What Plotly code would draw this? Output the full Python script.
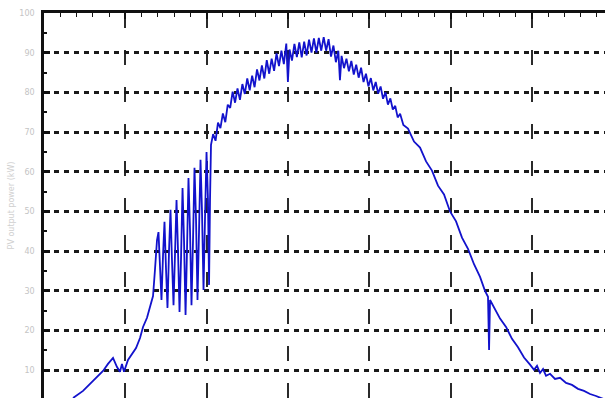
import plotly.graph_objects as go

# Sample positions (x, arbitrary time units; one grid cell = 10) and measured values
x_vals = [3.57, 4.80, 6.03, 7.26, 7.87, 8.49, 8.98, 9.35, 9.59, 9.84,
          10.33, 10.82, 11.32, 11.81, 12.18, 12.67, 13.04,
          13.41, 13.65, 13.90, 14.08, 14.27, 14.45, 14.64, 14.82, 15.01, 15.19,
          15.38, 15.56, 15.74, 15.93, 16.11, 16.30, 16.48, 16.67, 16.85, 17.04,
          17.22, 17.41, 17.59, 17.77, 17.96, 18.14, 18.33, 18.51, 18.70, 18.88,
          19.07, 19.25, 19.43, 19.62, 19.80, 19.99, 20.17, 20.30, 20.42, 20.54,
          20.8, 21.1, 21.4, 21.7, 22.0, 22.3, 22.6, 22.9, 23.2, 23.5,
          23.8, 24.1, 24.4, 24.7, 25.0, 25.3, 25.6, 25.9, 26.2, 26.5,
          26.8, 27.1, 27.4, 27.7, 28.0, 28.3, 28.6, 28.9, 29.2, 29.5,
          29.8, 30.0, 30.2, 30.5, 30.8, 31.1, 31.4, 31.7, 32.0, 32.3,
          32.6, 32.9, 33.2, 33.5, 33.8, 34.1, 34.4, 34.7, 35.0, 35.3,
          35.6, 35.9, 36.2, 36.4, 36.6, 36.9, 37.2, 37.5, 37.8, 38.1,
          38.4, 38.7, 39.0, 39.3, 39.6, 39.9, 40.2, 40.5, 40.8, 41.1,
          41.4, 41.7, 42.0, 42.3, 42.6, 42.9, 43.2, 43.5, 43.8, 44.2,
          44.77, 45.51, 46.25, 46.99, 47.72, 48.46, 49.20, 49.94, 50.68, 51.41,
          52.15, 52.89, 53.63, 54.24, 54.61, 54.74, 54.86, 55.47, 56.09, 56.83,
          57.56, 58.30, 59.04, 59.78, 60.27, 60.64, 61.01, 61.38, 61.75, 62.24,
          62.85, 63.47, 64.21, 64.94, 65.68, 66.42, 67.16, 67.90, 68.63, 69.37]
y_vals = [3.0, 4.8, 7.3, 9.8, 11.6, 13.1, 10.8, 9.6, 11.6, 9.6,
          12.6, 14.1, 15.6, 18.1, 20.9, 23.2, 26.2,
          28.7, 35.3, 42.8, 44.8, 34.0, 27.7, 39.0, 47.4, 35.3, 25.7,
          40.3, 50.4, 37.8, 26.4, 39.0, 52.9, 40.3, 24.7, 37.8, 55.9,
          42.8, 23.9, 40.3, 58.4, 45.3, 26.4, 42.8, 61.0, 47.9, 27.7,
          45.3, 63.0, 50.4, 30.2, 47.9, 65.0, 52.9, 31.5, 52.9, 66.8,
          69.5, 67.8, 72.4, 71.0, 74.7, 72.5, 76.9, 76.1, 80.2, 77.4,
          81.0, 78.1, 82.1, 79.6, 83.5, 80.5, 84.2, 81.3, 85.8, 83.0,
          86.8, 83.5, 88.1, 84.7, 88.5, 85.4, 89.8, 86.6, 90.5, 87.1,
          92.3, 82.6, 90.8, 88.0, 92.2, 88.9, 92.6, 88.8, 92.8, 89.3,
          93.3, 90.0, 93.6, 90.0, 93.7, 90.5, 93.9, 90.5, 93.4, 89.0,
          91.8, 87.6, 90.5, 83.1, 89.2, 86.1, 88.5, 85.3, 87.9, 84.5,
          87.0, 83.7, 86.2, 82.6, 84.7, 81.5, 83.6, 80.5, 82.6, 79.7,
          81.5, 78.4, 80.0, 76.9, 78.5, 75.7, 76.6, 73.7, 74.6, 71.8,
          70.9, 67.6, 66.1, 62.6, 60.3, 56.5, 54.3, 50.0, 47.5, 43.4,
          40.6, 36.7, 33.5, 30.0, 28.5, 15.1, 27.7, 25.4, 23.0, 20.9,
          17.9, 15.8, 13.2, 11.4, 10.1, 11.1, 9.3, 10.3, 8.6, 9.1,
          7.8, 8.1, 6.8, 6.3, 5.3, 4.8, 4.0, 3.5, 2.8, 2.3]

y_ticks = [10, 20, 30, 40, 50, 60, 70, 80, 90, 100]
y_tick_text = ["10", "20", "30", "40", "50", "60", "70", "80", "90", "100"]
y_title = "PV output power (kW)"

fig = go.Figure()
fig.add_trace(go.Scatter(
    x=x_vals, y=y_vals, mode="lines",
    line=dict(color="#1212cc", width=1.8),
    hoverinfo="skip", showlegend=False,
))

fig.update_layout(
    width=605, height=398,
    margin=dict(l=44, r=0, t=13, b=0),
    paper_bgcolor="white", plot_bgcolor="white",
    showlegend=False,
    font=dict(family="DejaVu Sans", size=8, color="#c4c4c4"),
)

fig.update_xaxes(
    range=[0, 69.0], side="top",
    showline=True, linecolor="#111111", linewidth=3,
    showticklabels=False,
    ticks="inside", ticklen=6, tickwidth=1.5, tickcolor="#111111",
    tick0=0, dtick=10,
    showgrid=True, gridcolor="#2a2a2a", gridwidth=1.5, griddash="15px,22px",
    minor=dict(ticks="inside", ticklen=4, tickwidth=1.3, tickcolor="#111111",
               dtick=2, tick0=0, showgrid=False),
    zeroline=False,
)

fig.update_yaxes(
    range=[3.0, 100],
    showline=True, linecolor="#111111", linewidth=2.5,
    tickmode="array", tickvals=y_ticks, ticktext=y_tick_text,
    ticks="inside", ticklen=6, tickwidth=2.5, tickcolor="#111111",
    ticklabelstandoff=5,
    tickfont=dict(size=8, color="#c4c4c4"),
    showgrid=True, gridcolor="#1a1a1a", gridwidth=3, griddash="5px,5px",
    minor=dict(ticks="inside", ticklen=3, tickwidth=2, tickcolor="#111111",
               tickvals=[15, 25, 35, 45, 55, 65, 75, 85, 95], showgrid=False),
    title=dict(text=y_title, font=dict(size=8, color="#d0d0d0"), standoff=4),
    zeroline=False,
)

fig.write_html("out.html")
